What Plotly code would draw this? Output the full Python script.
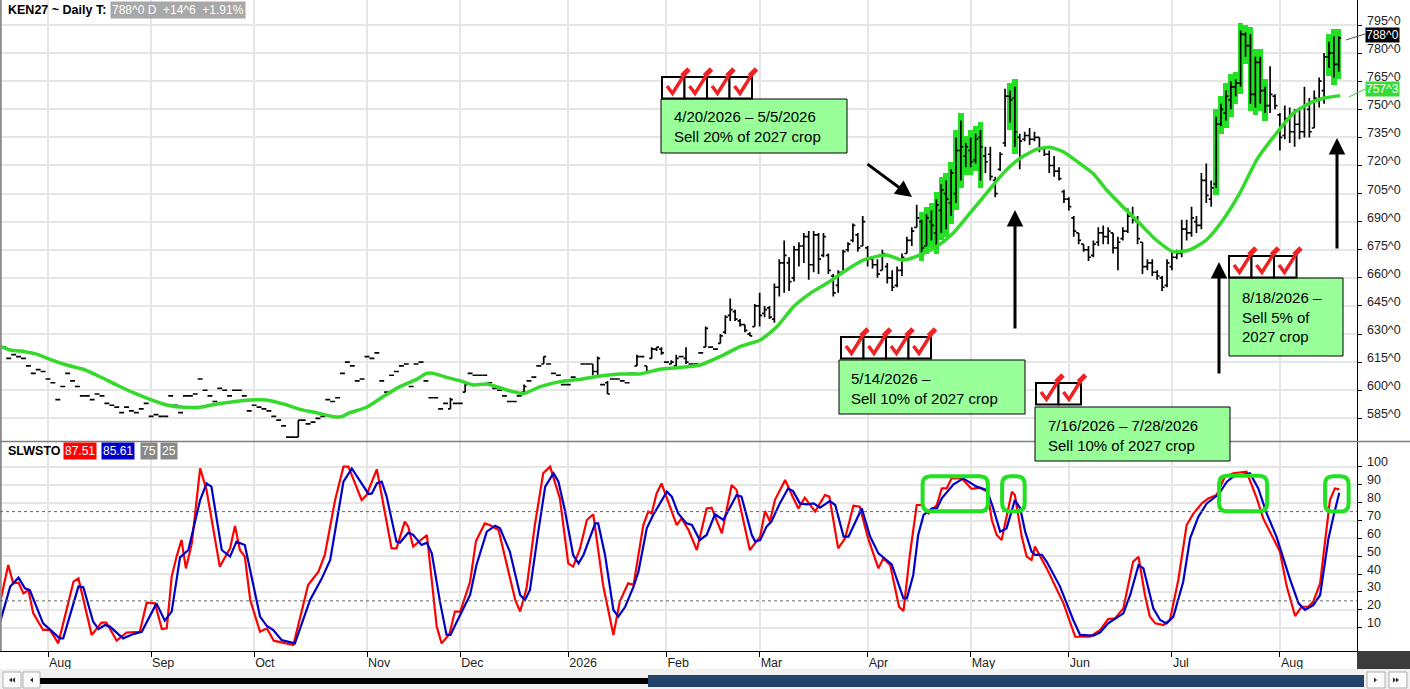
import plotly.graph_objects as go

# --- data ------------------------------------------------------------------
month_idx = [10, 31, 52, 75, 94, 116, 136, 155, 177, 198, 218, 239, 261]
month_names = ["Aug", "Sep", "Oct", "Nov", "Dec", "2026", "Feb", "Mar", "Apr",
               "May", "Jun", "Jul", "Aug"]

bar_open = [
    620, 623, 617, 619, 618, 617, 613, 609, 611, 610,
    606, 604, 595, 602, 609, 605, 602, 597, 597, 595,
    598, 597, 593, 592, 591, 588, 591, 589, 588, 590,
    593, 586, 587, 586, 586, 597, 592, 588, 597, 597,
    598, 606, 600, 597, 594, 601, 600, 597, 600, 600,
    597, 589, 592, 591, 590, 589, 586, 584, 581, 575,
    575, 575, 584, 582, 583, 585, 586, 595, 594, 596,
    609, 615, 613, 605, 606, 618, 617, 620, 605, 599,
    608, 610, 613, 614, 602, 614, 615, 605, 596, 596,
    590, 593, 590, 593, 593, 599, 609, 608, 608, 608,
    604, 601, 600, 597, 594, 594, 597, 599, 605, 607,
    613, 614, 614, 609, 608, 603, 603, 607, 606, 614,
    614, 614, 610, 603, 604, 606, 606, 605, 604, 609,
    613, 618, 613, 617, 622, 622, 615, 614, 613, 618,
    617, 614, 614, 620, 623, 623, 622, 625, 631, 640,
    642, 637, 635, 630, 634, 645, 641, 644, 638, 655,
    668, 668, 660, 675, 677, 682, 667, 683, 672, 672,
    661, 656, 663, 675, 680, 683, 677, 676, 670, 667,
    664, 666, 660, 656, 664, 673, 680, 687, 690, 677,
    690, 684, 696, 705, 700, 705, 728, 725, 728, 723,
    735, 725, 726, 712, 718, 732, 757, 756, 735, 734,
    736, 734, 735, 729, 726, 720, 717, 706, 702, 692,
    684, 678, 675, 672, 679, 684, 682, 684, 676, 681,
    685, 693, 690, 679, 666, 668, 663, 660, 656, 666,
    671, 673, 686, 684, 690, 688, 712, 702, 710, 742,
    748, 755, 762, 764, 790, 784, 758, 775, 760, 752,
    757, 747, 736, 745, 738, 742, 738, 750, 740, 755,
    760, 778, 780, 774,
]
bar_high = [
    620, 623, 617, 619, 618, 617, 613, 609, 611, 610,
    606, 604, 595, 602, 609, 605, 602, 597, 597, 595,
    598, 597, 593, 592, 591, 588, 591, 589, 588, 590,
    593, 586, 587, 586, 586, 597, 592, 588, 597, 597,
    598, 606, 600, 597, 594, 601, 600, 597, 600, 600,
    597, 589, 592, 591, 590, 589, 586, 584, 581, 575,
    575, 584, 584, 582, 583, 585, 586, 595, 594, 596,
    609, 615, 613, 605, 606, 618, 617, 620, 605, 599,
    608, 610, 613, 614, 602, 614, 615, 605, 596, 596,
    590, 593, 596, 593, 593, 604, 609, 608, 608, 608,
    604, 601, 600, 597, 594, 594, 597, 603, 605, 607,
    613, 618, 614, 609, 608, 603, 603, 607, 606, 614,
    614, 614, 618, 603, 605, 606, 606, 605, 604, 609,
    619, 618, 613, 623, 623, 623, 615, 616, 619, 618,
    623, 614, 614, 620, 634, 623, 622, 630, 640, 649,
    643, 638, 635, 631, 646, 652, 645, 645, 657, 670,
    680, 671, 677, 679, 684, 685, 685, 684, 684, 673,
    662, 664, 675, 679, 689, 684, 693, 677, 671, 670,
    675, 668, 664, 666, 673, 682, 687, 699, 691, 694,
    696, 702, 710, 712, 718, 735, 744, 732, 735, 737,
    739, 730, 730, 714, 727, 761, 760, 762, 737, 738,
    740, 738, 735, 730, 728, 725, 719, 707, 703, 693,
    684, 678, 677, 680, 687, 688, 687, 684, 682, 687,
    697, 698, 693, 679, 670, 670, 664, 661, 670, 674,
    675, 691, 691, 698, 693, 716, 721, 712, 746, 753,
    760, 765, 766, 792, 791, 790, 778, 778, 762, 773,
    758, 748, 752, 751, 750, 751, 762, 756, 760, 767,
    780, 786, 789, 789,
]
bar_low = [
    620, 623, 617, 619, 618, 617, 613, 609, 611, 610,
    606, 604, 595, 602, 609, 605, 602, 597, 597, 595,
    598, 597, 593, 592, 591, 588, 591, 589, 588, 590,
    593, 586, 587, 586, 586, 597, 592, 588, 597, 597,
    598, 606, 600, 597, 594, 601, 600, 597, 600, 600,
    597, 589, 592, 591, 590, 589, 586, 584, 581, 575,
    575, 575, 584, 582, 583, 585, 586, 595, 594, 596,
    609, 615, 613, 605, 606, 618, 617, 620, 605, 599,
    608, 610, 613, 614, 602, 614, 615, 605, 596, 596,
    590, 593, 590, 593, 593, 599, 609, 608, 608, 608,
    604, 601, 600, 597, 594, 594, 597, 599, 605, 607,
    613, 614, 614, 609, 608, 603, 603, 607, 606, 614,
    614, 608, 608, 603, 598, 606, 606, 605, 604, 609,
    613, 618, 609, 617, 621, 619, 615, 614, 613, 618,
    614, 614, 614, 620, 623, 623, 622, 625, 630, 637,
    637, 634, 631, 629, 634, 634, 639, 638, 636, 650,
    652, 653, 658, 666, 668, 659, 663, 662, 671, 662,
    650, 652, 663, 674, 679, 674, 677, 666, 665, 660,
    664, 657, 653, 655, 661, 673, 677, 687, 673, 677,
    680, 677, 684, 686, 693, 700, 712, 719, 719, 721,
    712, 716, 712, 703, 717, 730, 743, 730, 718, 733,
    731, 733, 727, 725, 716, 714, 712, 700, 696, 682,
    678, 674, 669, 671, 677, 678, 678, 673, 664, 680,
    684, 689, 678, 662, 664, 661, 659, 653, 655, 664,
    670, 671, 680, 682, 684, 686, 700, 698, 708, 741,
    744, 750, 757, 762, 778, 753, 751, 753, 748, 748,
    750, 728, 734, 732, 730, 734, 735, 735, 740, 751,
    753, 772, 767, 770,
]
bar_close = [
    620, 623, 617, 619, 618, 617, 613, 609, 611, 610,
    606, 604, 595, 602, 609, 605, 602, 597, 597, 595,
    598, 597, 593, 592, 591, 588, 591, 589, 588, 590,
    593, 586, 587, 586, 586, 597, 592, 588, 597, 597,
    598, 606, 600, 597, 594, 601, 600, 597, 600, 600,
    597, 589, 592, 591, 590, 589, 586, 584, 581, 575,
    575, 584, 584, 582, 583, 585, 586, 595, 594, 596,
    609, 615, 613, 605, 606, 618, 617, 620, 605, 599,
    608, 610, 613, 614, 602, 614, 615, 605, 596, 596,
    590, 593, 595, 593, 593, 603, 609, 608, 608, 608,
    604, 601, 600, 597, 594, 594, 597, 602, 605, 607,
    613, 618, 614, 609, 608, 603, 603, 607, 606, 614,
    614, 610, 617, 603, 598, 606, 606, 605, 604, 609,
    618, 618, 610, 622, 623, 620, 615, 615, 617, 618,
    615, 614, 614, 620, 633, 623, 622, 629, 639, 643,
    638, 635, 632, 629, 645, 640, 643, 639, 655, 668,
    672, 658, 675, 677, 682, 667, 683, 670, 682, 664,
    652, 663, 674, 678, 688, 676, 690, 670, 667, 662,
    673, 660, 655, 664, 671, 680, 685, 692, 676, 692,
    688, 699, 707, 702, 716, 728, 730, 730, 722, 734,
    730, 722, 714, 705, 726, 757, 755, 738, 733, 736,
    734, 735, 729, 726, 720, 717, 713, 702, 698, 685,
    680, 675, 671, 678, 684, 682, 685, 676, 679, 685,
    693, 691, 681, 666, 668, 663, 661, 655, 668, 671,
    673, 686, 684, 692, 688, 712, 704, 708, 742, 750,
    757, 762, 764, 790, 784, 758, 775, 760, 752, 758,
    752, 735, 745, 738, 742, 738, 752, 738, 756, 765,
    778, 780, 774, 788,
]

# bars painted green (first / last bar of each run)
hl_start = [188, 206, 248, 271]
hl_end = [200, 207, 258, 273]

# moving average (bar position, value)
ma_idx = [0.2, 2.3, 5.3, 7.7, 10.4, 13.8, 17.2, 20.6, 24.0, 27.4, 30.8, 34.2,
          37.6, 41.0, 44.4, 47.8, 51.2, 54.5, 57.9, 61.3, 64.7, 68.1, 69.8,
          71.5, 74.9, 78.3, 81.7, 85.1, 87.1, 88.5, 91.2, 93.9, 96.7, 99.4,
          103.5, 106.9, 110.3, 114.3, 118.4, 122.5, 126.6, 130.6, 134.7,
          138.8, 142.9, 146.9, 151.0, 155.1, 158.5, 161.9, 165.3, 168.7,
          172.7, 176.1, 180.8, 184.2, 187.6, 191.0, 194.4, 197.8, 201.2,
          204.6, 208.0, 211.4, 214.1, 216.8, 220.2, 222.9, 225.7, 229.0,
          232.4, 235.8, 239.2, 242.6, 246.0, 249.4, 252.8, 256.4, 260.3,
          263.7, 267.0, 270.0, 273.3]
ma_val = [623.6, 621.5, 620.6, 619.3, 616.5, 613.5, 611.2, 607.2, 602.8, 598.7,
          595.1, 592.1, 590.9, 590.9, 592.7, 593.9, 594.8, 594.8, 592.7, 589.8,
          588.0, 585.9, 585.9, 588.0, 590.9, 596.6, 601.9, 605.8, 609.0, 609.0,
          606.9, 605.1, 602.8, 603.3, 600.1, 598.3, 601.9, 604.6, 605.8, 607.6,
          608.7, 608.7, 611.2, 612.2, 613.5, 617.9, 623.3, 626.8, 633.9, 644.6,
          651.7, 657.1, 664.2, 669.5, 672.2, 669.5, 672.2, 676.6, 683.8, 694.4,
          705.1, 715.8, 723.8, 728.6, 729.7, 727.4, 721.1, 715.8, 706.9, 698.0,
          689.1, 680.2, 674.0, 674.9, 680.2, 690.9, 705.1, 723.5, 737.2, 747.8,
          753.2, 756.0, 757.3]

# slow stochastic %K (red) and %D (blue)
k_idx = [0.2, 1.9, 2.9, 4.0, 5.0, 6.0, 7.0, 9.0, 10.4, 12.1, 14.1, 15.2, 16.2,
         18.9, 20.9, 21.9, 24.0, 26.0, 28.7, 30.1, 31.8, 33.2, 34.2, 35.2, 36.2,
         37.2, 38.1, 39.3, 41.0, 42.3, 45.0, 47.1, 48.1, 49.1, 50.1, 51.2, 53.2,
         54.6, 56.0, 60.0, 63.0, 65.1, 66.4, 68.5, 70.2, 71.2, 73.9, 74.9, 77.0,
         80.0, 81.0, 82.7, 83.4, 84.4, 87.2, 89.2, 90.2, 91.8, 92.9, 94.0, 96.0,
         97.2, 99.0, 100.0, 101.8, 103.5, 105.2, 106.2, 107.5, 109.2, 110.9,
         112.3, 114.3, 116.0, 117.0, 118.4, 119.8, 121.1, 123.1, 125.2, 126.5,
         128.2, 129.3, 131.3, 132.3, 133.0, 134.0, 135.0, 136.7, 138.1, 139.1,
         140.5, 142.2, 144.2, 145.2, 147.3, 149.3, 150.3, 153.0, 155.1, 156.1,
         157.1, 158.1, 160.2, 161.9, 162.9, 164.2, 166.3, 168.3, 169.2, 171.0,
         172.4, 174.1, 175.4, 177.1, 179.2, 180.2, 181.6, 183.4, 184.3, 185.6,
         187.0, 188.0, 189.4, 191.1, 192.1, 193.1, 194.1, 196.2, 198.2, 199.9,
         201.4, 202.3, 203.3, 204.3, 206.4, 207.0, 208.4, 209.4, 210.4, 211.1,
         213.5, 216.9, 219.3, 222.3, 224.4, 226.0, 227.4, 229.1, 230.5, 231.1,
         232.2, 233.5, 234.5, 235.6, 237.3, 238.6, 240.3, 242.0, 243.4, 245.1,
         246.4, 248.1, 249.8, 251.5, 254.2, 256.3, 257.6, 259.0, 261.0, 262.4,
         264.1, 265.4, 266.8, 267.8, 269.2, 271.2, 272.2, 273.1]
k_val = [23.6, 45.1, 34.8, 35.2, 29.2, 31.1, 18.0, 8.7, 8.7, 1.2, 23.6, 35.8,
         37.6, 5.9, 12.8, 12.8, 2.7, 7.2, 7.7, 24.0, 23.6, 9.2, 9.6, 38.6, 49.8,
         59.1, 43.2, 57.2, 99.2, 87.1, 44.2, 54.4, 67.0, 53.5, 49.8, 25.5, 7.7,
         9.6, 2.7, 0.3, 33.9, 41.4, 50.7, 81.5, 100.2, 100.2, 81.5, 84.3, 98.7,
         54.4, 54.4, 69.4, 66.6, 55.4, 61.9, 10.6, 1.2, 6.5, 19.0, 19.0, 35.7,
         58.5, 68.4, 67.5, 64.7, 45.1, 25.5, 19.0, 32.0, 67.5, 96.5, 100.2,
         82.4, 46.0, 44.2, 54.4, 70.3, 73.5, 33.9, 5.9, 24.6, 34.8, 34.0, 67.5,
         75.0, 74.0, 85.2, 90.8, 77.8, 67.5, 71.2, 64.7, 53.5, 76.8, 77.2, 62.8,
         89.9, 87.1, 53.5, 61.0, 75.4, 69.4, 81.5, 92.7, 82.4, 76.8, 82.8, 75.0,
         84.3, 83.4, 54.4, 60.0, 78.3, 77.8, 60.0, 43.2, 48.8, 45.1, 21.7, 19.3,
         50.7, 78.7, 78.7, 74.0, 78.7, 88.0, 88.0, 93.6, 93.6, 87.7, 88.4, 86.2,
         70.3, 61.9, 59.1, 86.2, 84.3, 61.0, 49.8, 47.9, 55.4, 43.2, 23.6, 4.9,
         4.9, 8.7, 14.8, 15.2, 20.8, 38.6, 47.0, 49.7, 28.3, 16.2, 12.4, 11.5,
         14.3, 36.7, 67.5, 74.0, 79.6, 82.4, 84.3, 94.6, 96.5, 97.4, 82.4, 71.2,
         63.8, 52.6, 33.0, 16.5, 21.7, 21.7, 24.6, 34.8, 81.5, 88.0, 87.5]
d_idx = [0.2, 2.3, 4.0, 5.3, 6.3, 9.0, 12.4, 13.1, 16.2, 17.2, 19.2, 20.3,
         21.6, 22.6, 25.3, 27.4, 29.1, 32.1, 33.8, 35.2, 36.9, 38.6, 41.0, 42.3,
         43.3, 45.4, 47.1, 48.4, 50.1, 53.2, 54.6, 55.9, 57.6, 60.3, 63.4, 65.8,
         67.5, 70.2, 71.9, 73.6, 75.3, 76.0, 77.0, 78.0, 79.0, 81.0, 81.7, 83.4,
         84.4, 86.1, 87.2, 88.2, 89.9, 91.2, 92.0, 93.3, 96.0, 97.3, 99.4, 101.1,
         102.1, 104.1, 106.2, 107.2, 108.2, 109.9, 111.3, 113.0, 114.0, 115.3,
         117.0, 118.1, 119.1, 121.5, 122.1, 123.5, 125.2, 126.2, 127.6, 129.3,
         130.3, 132.0, 133.3, 136.1, 137.1, 138.4, 140.1, 141.2, 142.8, 144.2,
         145.9, 147.6, 149.0, 150.3, 151.3, 153.4, 154.1, 155.1, 156.4, 157.4,
         159.1, 160.8, 161.8, 163.2, 164.6, 166.0, 167.3, 169.3, 170.4, 172.1,
         173.1, 175.8, 177.5, 179.2, 181.9, 183.6, 184.3, 185.0, 186.3, 187.3,
         188.4, 190.1, 191.1, 192.1, 194.5, 196.5, 199.2, 201.3, 202.6, 204.0,
         205.3, 207.0, 208.1, 209.1, 210.4, 211.1, 212.5, 213.5, 216.2, 218.9,
         220.3, 223.0, 224.4, 226.0, 229.1, 230.5, 232.2, 233.2, 235.2, 236.6,
         237.9, 239.3, 241.3, 242.7, 244.4, 246.1, 248.5, 250.2, 251.5, 254.9,
         256.6, 258.3, 260.3, 263.0, 264.8, 266.1, 267.8, 269.2, 270.9, 271.9,
         273.1]
d_val = [12.8, 33.0, 38.0, 32.0, 31.0, 12.4, 4.0, 4.0, 33.0, 32.6, 13.3, 9.2,
         11.5, 10.6, 4.0, 6.4, 7.7, 23.6, 13.9, 19.0, 49.4, 53.5, 81.5, 90.8,
         89.0, 53.5, 49.8, 58.2, 56.3, 16.2, 10.9, 8.7, 3.1, 1.2, 25.5, 37.6,
         47.9, 91.8, 99.2, 91.8, 84.9, 85.2, 90.8, 91.8, 83.4, 58.2, 57.6, 63.2,
         62.0, 56.3, 57.6, 51.6, 24.0, 6.0, 5.9, 13.3, 28.3, 45.1, 63.8, 67.1,
         65.6, 52.6, 28.3, 25.5, 31.1, 63.8, 89.0, 96.5, 91.8, 75.9, 50.7, 46.0,
         50.7, 68.4, 68.4, 50.7, 19.9, 16.2, 21.7, 33.0, 41.4, 65.6, 73.1, 86.2,
         83.4, 74.0, 68.4, 67.5, 59.1, 61.9, 73.5, 70.3, 77.8, 84.3, 83.4, 61.9,
         58.2, 59.0, 66.6, 69.4, 79.6, 88.0, 86.5, 79.6, 79.1, 79.6, 77.2, 80.9,
         78.7, 61.0, 61.0, 76.8, 61.0, 51.6, 45.5, 32.0, 26.4, 26.4, 39.5, 61.9,
         73.1, 76.8, 76.8, 82.4, 90.3, 93.6, 89.0, 87.1, 76.8, 63.8, 65.6, 81.5,
         76.8, 63.8, 52.6, 50.8, 50.8, 46.9, 33.0, 14.3, 5.9, 5.5, 7.4, 12.4,
         18.0, 28.3, 45.1, 43.2, 20.8, 14.3, 12.4, 16.2, 35.7, 60.0, 72.2, 79.6,
         84.7, 91.8, 94.6, 96.5, 88.0, 74.0, 61.0, 37.6, 23.6, 19.9, 22.6, 28.3,
         60.0, 72.2, 85.6]

price_ticks = [585, 600, 615, 630, 645, 660, 675, 690, 705, 720, 735, 750, 765, 780, 795]
price_labels = ["585^0", "600^0", "615^0", "630^0", "645^0", "660^0", "675^0", "690^0",
                "705^0", "720^0", "735^0", "750^0", "765^0", "780^0", "795^0"]
sto_ticks = [10, 20, 30, 40, 50, 60, 70, 80, 90, 100]
sto_labels = ["10", "20", "30", "40", "50", "60", "70", "80", "90", "100"]

# --- layout helpers ----------------------------------------------------------
PW, PH = 1357, 651          # plot area in pixels
X_RANGE = [0.22, 276.71]
FONT = "Liberation Sans, Arial, sans-serif"
GRID = "#e6e6e6"
LIME = "#22e022"
BOX_GREEN = "#99ff99"


def px(x):
    return x / PW


def py(y):
    return 1 - y / PH


def rect(x0, y0, x1, y1, fill, line="black", lw=1):
    return dict(type="rect", xref="paper", yref="paper", x0=px(x0), x1=px(x1),
                y0=py(y1), y1=py(y0), fillcolor=fill,
                line=dict(color=line, width=lw))


def seg(pts, color, width):
    d = "M " + " L ".join(f"{px(a):.5f},{py(b):.5f}" for a, b in pts)
    return dict(type="path", xref="paper", yref="paper", path=d,
                line=dict(color=color, width=width))


def rounded(x0, x1, y0, y1, rx, ry):
    d = (f"M {x0 + rx},{y1} L {x1 - rx},{y1} Q {x1},{y1} {x1},{y1 - ry} "
         f"L {x1},{y0 + ry} Q {x1},{y0} {x1 - rx},{y0} L {x0 + rx},{y0} "
         f"Q {x0},{y0} {x0},{y0 + ry} L {x0},{y1 - ry} Q {x0},{y1} {x0 + rx},{y1} Z")
    return dict(type="path", xref="x2", yref="y2", path=d,
                line=dict(color=LIME, width=4))


# --- traces --------------------------------------------------------------------
hl_x, hl_base, hl_len = [], [], []
for a, b in zip(hl_start, hl_end):
    for i in range(a, b + 1):
        hl_x.append(i)
        hl_base.append(bar_low[i] - 4)
        hl_len.append(bar_high[i] - bar_low[i] + 8)

fig = go.Figure()
fig.add_trace(go.Bar(x=hl_x, y=hl_len, base=hl_base, width=1.1,
                     marker=dict(color=LIME, line=dict(width=0)),
                     xaxis="x", yaxis="y", hoverinfo="skip"))
fig.add_trace(go.Ohlc(x=list(range(len(bar_close))), open=bar_open, high=bar_high,
                      low=bar_low, close=bar_close, tickwidth=0.5,
                      increasing=dict(line=dict(color="black", width=1.7)),
                      decreasing=dict(line=dict(color="black", width=1.7)),
                      xaxis="x", yaxis="y"))
fig.add_trace(go.Scatter(x=ma_idx, y=ma_val, mode="lines", xaxis="x", yaxis="y",
                         line=dict(color="#33d92b", width=3.5, shape="spline",
                                   smoothing=0.6)))
fig.add_trace(go.Scatter(x=k_idx, y=k_val, mode="lines", xaxis="x2", yaxis="y2",
                         line=dict(color="#ff0000", width=2.2)))
fig.add_trace(go.Scatter(x=d_idx, y=d_val, mode="lines", xaxis="x2", yaxis="y2",
                         line=dict(color="#0000c8", width=2.2)))

# --- shapes --------------------------------------------------------------------
shapes = []
# frame bits
shapes.append(seg([(0.8, 0), (0.8, 651)], "#8c8c8c", 2))
shapes.append(seg([(0, 441.5), (1410, 441.5)], "#7f7f7f", 1.5))
# stochastic reference lines
for lvl in (75, 25):
    shapes.append(dict(type="line", xref="paper", yref="y2", x0=0, x1=1, y0=lvl,
                       y1=lvl, line=dict(color="#666666", width=1, dash="dot")))
# green rounded boxes on the stochastic
shapes.append(rounded(188.2, 201.5, 75.2, 94.8, 1.6, 4.5))
shapes.append(rounded(204.4, 209.0, 75.2, 94.8, 1.6, 4.5))
shapes.append(rounded(248.6, 258.4, 75.2, 95.1, 1.6, 4.5))
shapes.append(rounded(270.2, 275.0, 75.0, 94.8, 1.6, 4.5))

# note boxes
notes = [
    (661, 99, 847, 153, 672, 127, "4/20/2026 \u2013 5/5/2026<br>Sell 20% of 2027 crop"),
    (839, 360, 1025, 414, 849, 388, "5/14/2026 \u2013<br>Sell 10% of 2027 crop"),
    (1035, 407, 1230, 461, 1046, 435, "7/16/2026 \u2013 7/28/2026<br>Sell 10% of 2027 crop"),
    (1229, 278, 1343, 356, 1240, 317, "8/18/2026 \u2013<br>Sell 5% of<br>2027 crop"),
]
for x0, y0, x1, y1, *_ in notes:
    shapes.append(rect(x0, y0, x1, y1, BOX_GREEN))

# check boxes
for bx0, by0, n in [(662, 77, 4), (841, 337, 4), (1036, 383, 2), (1229, 256, 3)]:
    for i in range(n):
        bx = bx0 + i * 22.5
        shapes.append(rect(bx, by0, bx + 22.5, by0 + 21.5, "white", "black", 2))
    for i in range(n):
        bx = bx0 + i * 22.5
        shapes.append(seg([(bx + 5, by0 + 9), (bx + 10.5, by0 + 16.5), (bx + 24, by0 - 5)],
                          "#ee2222", 3.5))
        shapes.append(seg([(bx + 20, by0 - 1), (bx + 27, by0 - 8)], "#ee2222", 5))

# price tag connectors
shapes.append(seg([(1346, 40), (1365, 34)], "#555555", 1))
shapes.append(seg([(1349, 97), (1365, 89)], "#33cc33", 1))

# scroll bar strip at the bottom
shapes.append(rect(1357, 651, 1410, 669, "#3c3c3c", "#3c3c3c", 0))
shapes.append(rect(0, 669, 1410, 689, "#f0f0f0", "#f0f0f0", 0))
for x0, x1 in [(3, 21), (23, 40), (1367, 1385), (1389, 1407)]:
    shapes.append(rect(x0, 672, x1, 688, "#fbfbfb", "#b0b0b0", 1))
shapes.append(rect(40, 678, 652, 684, "black", "black", 0))
shapes.append(rect(648, 675, 1364, 687, "#23436b", "#23436b", 0))
for tri in [[(9, 680), (12, 677.5), (12, 682.5)], [(12, 680), (15, 677.5), (15, 682.5)],
            [(30, 680), (33, 677.5), (33, 682.5)], [(1377, 680), (1374, 677.5), (1374, 682.5)],
            [(1396, 680), (1393, 677.5), (1393, 682.5)], [(1399, 680), (1396, 677.5), (1396, 682.5)]]:
    d = "M " + " L ".join(f"{px(a):.5f},{py(b):.5f}" for a, b in tri) + " Z"
    shapes.append(dict(type="path", xref="paper", yref="paper", path=d,
                       fillcolor="#333333", line=dict(width=0)))

# --- annotations --------------------------------------------------------------------
ann = []
# right-hand axis labels sit a few pixels above their grid line, as in the source
for v, t in zip(price_ticks, price_labels):
    ann.append(dict(x=1, y=v, xref="paper", yref="y", text=t, showarrow=False,
                    xanchor="left", yanchor="middle", xshift=8, yshift=4,
                    font=dict(family=FONT, size=12.5, color="#1e1e1e")))
for v, t in zip(sto_ticks, sto_labels):
    ann.append(dict(x=1, y=v, xref="paper", yref="y2", text=t, showarrow=False,
                    xanchor="left", yanchor="middle", xshift=8, yshift=4.5,
                    font=dict(family=FONT, size=12.5, color="#1e1e1e")))

for *_, tx, ty, txt in notes:
    ann.append(dict(x=px(tx), y=py(ty), xref="paper", yref="paper", text=txt,
                    showarrow=False, xanchor="left", yanchor="middle", align="left",
                    font=dict(family=FONT, size=15, color="black")))

for hx, hy, ax, ay in [(912, 197, -46, -34), (1015, 210, 0, 120),
                       (1219, 262, 0, 113), (1337, 138, 0, 112)]:
    ann.append(dict(x=px(hx), y=py(hy), xref="paper", yref="paper", text="",
                    showarrow=True, arrowhead=2, arrowsize=1.1, arrowwidth=3,
                    arrowcolor="black", ax=ax, ay=ay))


def label(x, y, txt, bg=None, color="black", size=12, bold=False, pad=1):
    t = f"<b>{txt}</b>" if bold else txt
    d = dict(x=px(x), y=py(y), xref="paper", yref="paper", text=t, showarrow=False,
             xanchor="left", yanchor="middle",
             font=dict(family=FONT, size=size, color=color), borderpad=pad)
    if bg:
        d["bgcolor"] = bg
    return d


nb = "\u00a0"
ann.append(label(6, 10, "KEN27 ~ Daily T:", size=12.5, bold=True))
ann.append(label(110, 10, f"788^0 D{nb}{nb}+14^6{nb}{nb}+1.91%", bg="#a8a8a8", color="white"))
ann.append(label(6, 451, "SLWSTO", size=12.5, bold=True))
ann.append(label(63, 451, "87.51", bg="#ff0000", color="white"))
ann.append(label(101, 451, "85.61", bg="#0000cc", color="white"))
ann.append(label(140, 451, "75", bg="#888888", color="white"))
ann.append(label(160, 451, "25", bg="#888888", color="white"))
ann.append(label(1365, 35, "788^0", bg="black", color="white", size=12, pad=0))
ann.append(label(1365, 89.5, "757^3", bg="#33dd33", color="white", size=12, pad=0))

fig.update_layout(
    width=1410, height=689,
    margin=dict(l=0, r=53, t=0, b=38, pad=0),
    paper_bgcolor="white", plot_bgcolor="white",
    showlegend=False, bargap=0,
    xaxis=dict(domain=[0, 1], anchor="y", range=X_RANGE, tickvals=month_idx,
               showticklabels=False, ticks="", showgrid=True, gridcolor=GRID,
               gridwidth=2, zeroline=False, rangeslider=dict(visible=False)),
    yaxis=dict(domain=[1 - 441 / PH, 1], anchor="x", side="right",
               range=[572.9, 808.35], tickvals=price_ticks, showticklabels=False,
               ticks="outside", ticklen=4, tickcolor="black",
               showline=True, linecolor="black", linewidth=1, showgrid=True,
               gridcolor=GRID, gridwidth=2, zeroline=False),
    xaxis2=dict(domain=[0, 1], anchor="y2", range=X_RANGE, tickvals=month_idx,
                ticktext=month_names, ticks="outside", ticklen=5, tickcolor="black",
                ticklabelposition="outside right", showline=True, linecolor="black",
                linewidth=1, showgrid=True, gridcolor=GRID, gridwidth=2,
                zeroline=False, tickfont=dict(family=FONT, size=12.5, color="#1e1e1e")),
    yaxis2=dict(domain=[0, 1 - 442 / PH], anchor="x2", side="right",
                range=[-3.08, 114.0], tickvals=sto_ticks, showticklabels=False,
                ticks="outside", ticklen=4, tickcolor="black",
                showline=True, linecolor="black", linewidth=1, showgrid=True,
                gridcolor=GRID, gridwidth=2, zeroline=False),
    shapes=shapes,
    annotations=ann,
)

# the page's default 8px body margin would shift the whole figure
fig.write_html("out.html", config={"displayModeBar": False},
               post_script="document.body.style.margin = '0';")
